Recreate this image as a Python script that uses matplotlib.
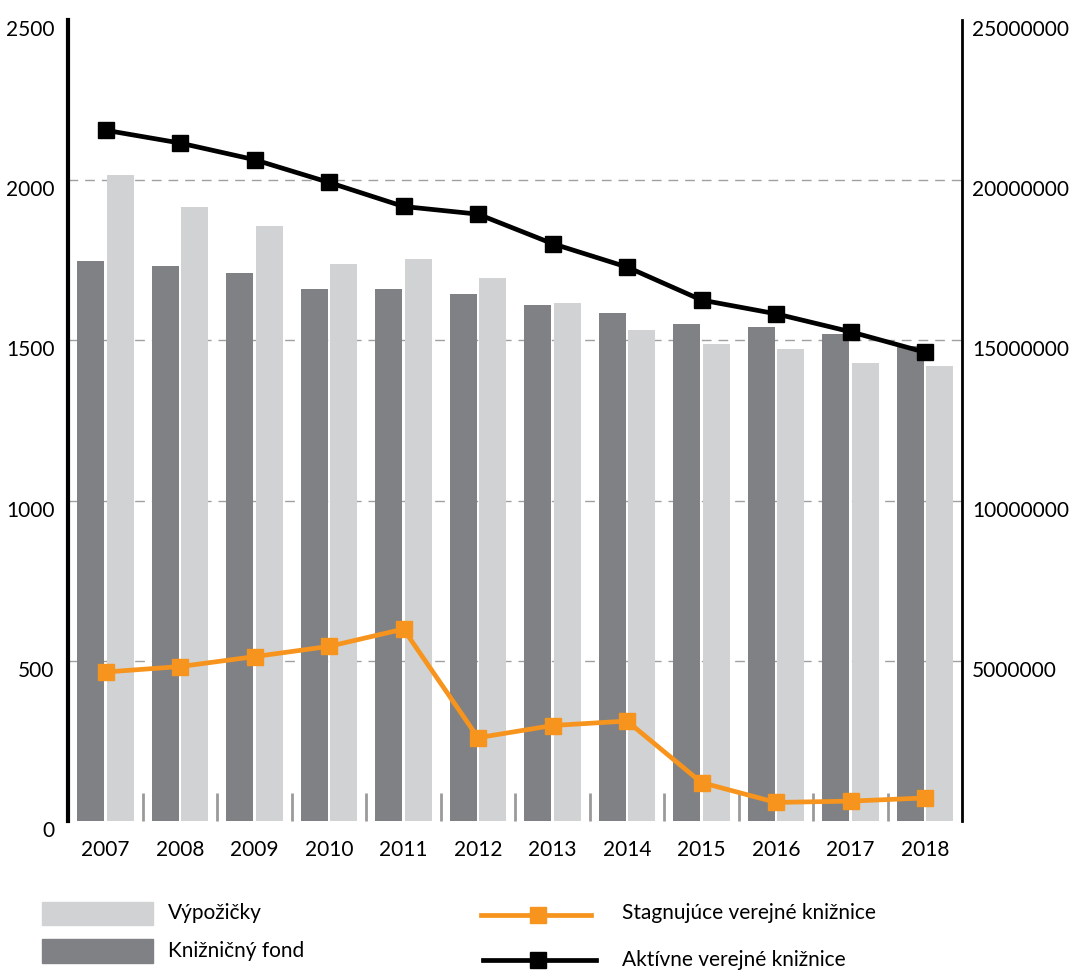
import numpy as np
import matplotlib
matplotlib.use("Agg")
import matplotlib.pyplot as plt
from matplotlib.transforms import ScaledTranslation
from matplotlib.patches import Rectangle
from matplotlib.lines import Line2D

plt.rcParams["font.family"] = ["Lato", "DejaVu Sans"]

years = ["2007", "2008", "2009", "2010", "2011", "2012",
         "2013", "2014", "2015", "2016", "2017", "2018"]

# book stock and loans (right axis)
kniznicny_fond = [17470000, 17310000, 17090000, 16590000, 16590000, 16440000,
                  16090000, 15840000, 15500000, 15410000, 15190000, 14840000]
vypozicky = [20160000, 19160000, 18560000, 17370000, 17530000, 16940000,
             16160000, 15310000, 14880000, 14720000, 14310000, 14190000]

# number of libraries (left axis)
aktivne = [2156, 2116, 2064, 1993, 1918, 1894, 1802, 1729, 1626, 1583, 1527, 1463]
stagnujuce = [465, 482, 513, 545, 599, 260, 298, 312, 120, 58, 62, 72]

DARK = "#808184"
LIGHT = "#d1d2d4"
ORANGE = "#f7941d"
GRID = "#a0a0a0"
FS = 15
LW = 3.4
MS = 11

fig = plt.figure(figsize=(10.72, 9.75), dpi=100)
ax = fig.add_axes([68.25 / 1072, 154 / 975, 894 / 1072, 801 / 975])
ax2 = ax.twinx()

x = np.arange(len(years))
w = 0.36

# bars on the secondary axis, lines on the primary one drawn on top
ax2.bar(x - 0.02 - w / 2, kniznicny_fond, width=w, color=DARK, zorder=2)
ax2.bar(x + 0.02 + w / 2, vypozicky, width=w, color=LIGHT, zorder=2)
ax2.set_ylim(0, 25000000)
ax2.set_yticks(np.arange(0, 25000001, 5000000))
ax2.set_yticklabels(["", "5000000", "10000000", "15000000", "20000000", "25000000"])
for y in [500, 1000, 1500, 2000]:
    ax2.axhline(y * 10000, color=GRID, lw=1, ls=(0, (7, 5)), zorder=1)

ax.set_zorder(ax2.get_zorder() + 1)
ax.patch.set_visible(False)
ax.plot(x, stagnujuce, color=ORANGE, lw=LW, marker="s", ms=MS, zorder=5)
ax.plot(x, aktivne, color="black", lw=LW, marker="s", ms=MS, zorder=5)
ax.set_ylim(0, 2500)
ax.set_yticks(np.arange(0, 2501, 500))
ax.set_xlim(-0.5, 11.5)
ax.set_xticks(x)
ax.set_xticklabels(years)
ax.set_xticks(x[:-1] + 0.5, minor=True)

for a in (ax, ax2):
    for s in ("top", "bottom", "left", "right"):
        a.spines[s].set_visible(False)
ax.spines["left"].set_visible(True)
ax.spines["left"].set_linewidth(3)
ax2.spines["right"].set_visible(True)
ax2.spines["right"].set_linewidth(2)

ax.tick_params(axis="y", length=0, labelsize=FS, pad=10)
ax2.tick_params(axis="y", length=0, labelsize=FS, pad=7)
ax.tick_params(axis="x", which="major", length=0, labelsize=FS, pad=14)
ax.tick_params(axis="x", which="minor", direction="in", length=20, width=2,
               color="#9a9a9a")
ax2.tick_params(axis="x", length=0)

shift = ScaledTranslation(0, -8 / 100, fig.dpi_scale_trans)
for lab in ax.get_yticklabels() + ax2.get_yticklabels():
    lab.set_transform(lab.get_transform() + shift)

# legend below the chart
W, H = 1072, 975
def fx(px):
    return px / W
def fy(py):
    return 1 - py / H

fig.patches.append(Rectangle((fx(42), fy(925)), fx(111), 23 / H, color=LIGHT,
                             transform=fig.transFigure))
fig.patches.append(Rectangle((fx(42), fy(963)), fx(111), 24 / H, color=DARK,
                             transform=fig.transFigure))
fig.text(fx(168), fy(913), "Výpožičky", fontsize=FS, va="center")
fig.text(fx(168), fy(951), "Knižničný fond", fontsize=FS, va="center")

fig.lines.append(Line2D([fx(481), fx(591)], [fy(915), fy(915)], color=ORANGE,
                        lw=LW, transform=fig.transFigure))
fig.lines.append(Line2D([fx(538)], [fy(915)], color=ORANGE, marker="s", ms=MS,
                        transform=fig.transFigure))
fig.lines.append(Line2D([fx(483), fx(596)], [fy(960), fy(960)], color="black",
                        lw=LW, transform=fig.transFigure))
fig.lines.append(Line2D([fx(538)], [fy(960)], color="black", marker="s", ms=MS,
                        transform=fig.transFigure))
fig.text(fx(622), fy(913), "Stagnujúce verejné knižnice", fontsize=FS, va="center")
fig.text(fx(622), fy(960), "Aktívne verejné knižnice", fontsize=FS, va="center")

fig.savefig("out.png", dpi=100)
